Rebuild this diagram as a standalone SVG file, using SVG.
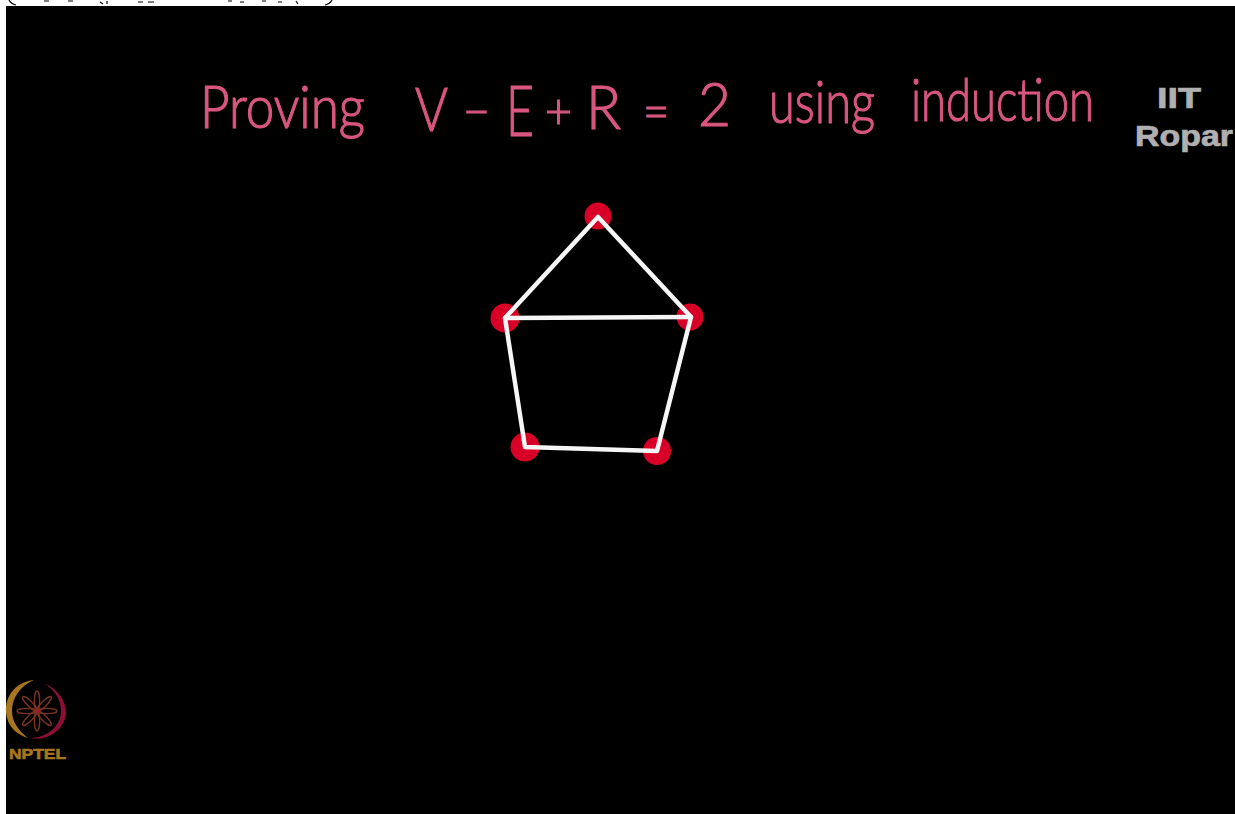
<svg xmlns="http://www.w3.org/2000/svg" width="1235" height="814" viewBox="0 0 1235 814">
<style>
.t{font-family:Lato,"Noto Sans",sans-serif;fill:#d9567f;font-weight:300;stroke:#d9567f;stroke-width:1.2}
.v{fill:#d80027}
.e{stroke:#f6f6f6;stroke-width:4.5;fill:none;stroke-linecap:round;stroke-linejoin:round}
.w{font-family:"Liberation Sans",Arial,sans-serif;font-weight:700;fill:#b0b0b0;stroke:#b0b0b0;stroke-width:.7}
.p{fill:none;stroke:#7a3320;stroke-width:1.4}
</style>
<defs><ellipse id="petal" cx="37" cy="701" rx="2.6" ry="10"/></defs>
<rect width="1235" height="814" fill="#fff"/>
<rect x="6" y="6" width="1229" height="808" fill="#000"/>
<path d="M9 0Q11 4 16 5M332 0Q330 4 325 5M44 1h5M68 1h5M100 2l3 2M107 1v3M138 2h5M148 2h6M228 1h4M240 2h4M262 1h4M278 2h4M296 1l2 3" fill="none" stroke="#000" stroke-width="1.2"/>
<g id="title">
<text class="t" x="200" y="128" font-size="60" textLength="165" lengthAdjust="spacingAndGlyphs">Proving</text>
<text class="t" x="415" y="131" font-size="62" textLength="33" lengthAdjust="spacingAndGlyphs">V</text>
<text class="t" x="463" y="129" font-size="50" textLength="27" lengthAdjust="spacingAndGlyphs">−</text>
<text class="t" x="506" y="136" font-size="70" textLength="28" lengthAdjust="spacingAndGlyphs">E</text>
<text class="t" x="545" y="129" font-size="50" textLength="27" lengthAdjust="spacingAndGlyphs">+</text>
<text class="t" x="586" y="129" font-size="62" textLength="35" lengthAdjust="spacingAndGlyphs">R</text>
<text class="t" x="643" y="129" font-size="50" textLength="26" lengthAdjust="spacingAndGlyphs">=</text>
<text class="t" x="698" y="126" font-size="62" textLength="33" lengthAdjust="spacingAndGlyphs">2</text>
<text class="t" x="769" y="123" font-size="60" textLength="106" lengthAdjust="spacingAndGlyphs">using</text>
<text class="t" x="911" y="121" font-size="60" textLength="183" lengthAdjust="spacingAndGlyphs">induction</text>
</g>
<g id="iit-ropar">
<text class="w" x="1179" y="108" font-size="29" text-anchor="middle" textLength="44" lengthAdjust="spacingAndGlyphs">IIT</text>
<text class="w" x="1135" y="146" font-size="29" textLength="98" lengthAdjust="spacingAndGlyphs">Ropar</text>
</g>
<g id="v-top"><circle class="v" cx="598" cy="216" r="13.5"/></g>
<g id="v-left"><circle class="v" cx="505" cy="318" r="14.5"/></g>
<g id="v-right"><circle class="v" cx="690" cy="317" r="13.5"/></g>
<g id="v-bottom-left"><circle class="v" cx="525" cy="447" r="14.5"/></g>
<g id="v-bottom-right"><circle class="v" cx="657" cy="451" r="14"/></g>
<g id="edges">
<path class="e" d="M598 217L505 318L525 447L657 451L691 317Z"/>
<path class="e" d="M505 318L691 317"/>
</g>
<g id="nptel">
<path d="M34 680C14 682 5 698 6 712C7 725 15 734 28 738C19 731 12 722 12 711C12 698 20 686 34 680Z" fill="#a8761f"/>
<path d="M44 683C58 689 66 701 66 713C65 729 48 742 30 738C46 738 61 727 61 711C61 700 55 690 44 683Z" fill="#8c0f35"/>
<g class="p">
<use href="#petal"/>
<use href="#petal" transform="rotate(45 37 711)"/>
<use href="#petal" transform="rotate(90 37 711)"/>
<use href="#petal" transform="rotate(135 37 711)"/>
<use href="#petal" transform="rotate(180 37 711)"/>
<use href="#petal" transform="rotate(225 37 711)"/>
<use href="#petal" transform="rotate(270 37 711)"/>
<use href="#petal" transform="rotate(315 37 711)"/>
</g>
<circle cx="37" cy="711" r="2" fill="#a01c30"/>
<text x="9" y="759" font-family="Liberation Sans,Arial,sans-serif" font-weight="700" font-size="14.5" fill="#a8761f" stroke="#a8761f" stroke-width=".6" textLength="57" lengthAdjust="spacingAndGlyphs">NPTEL</text>
</g>
</svg>
